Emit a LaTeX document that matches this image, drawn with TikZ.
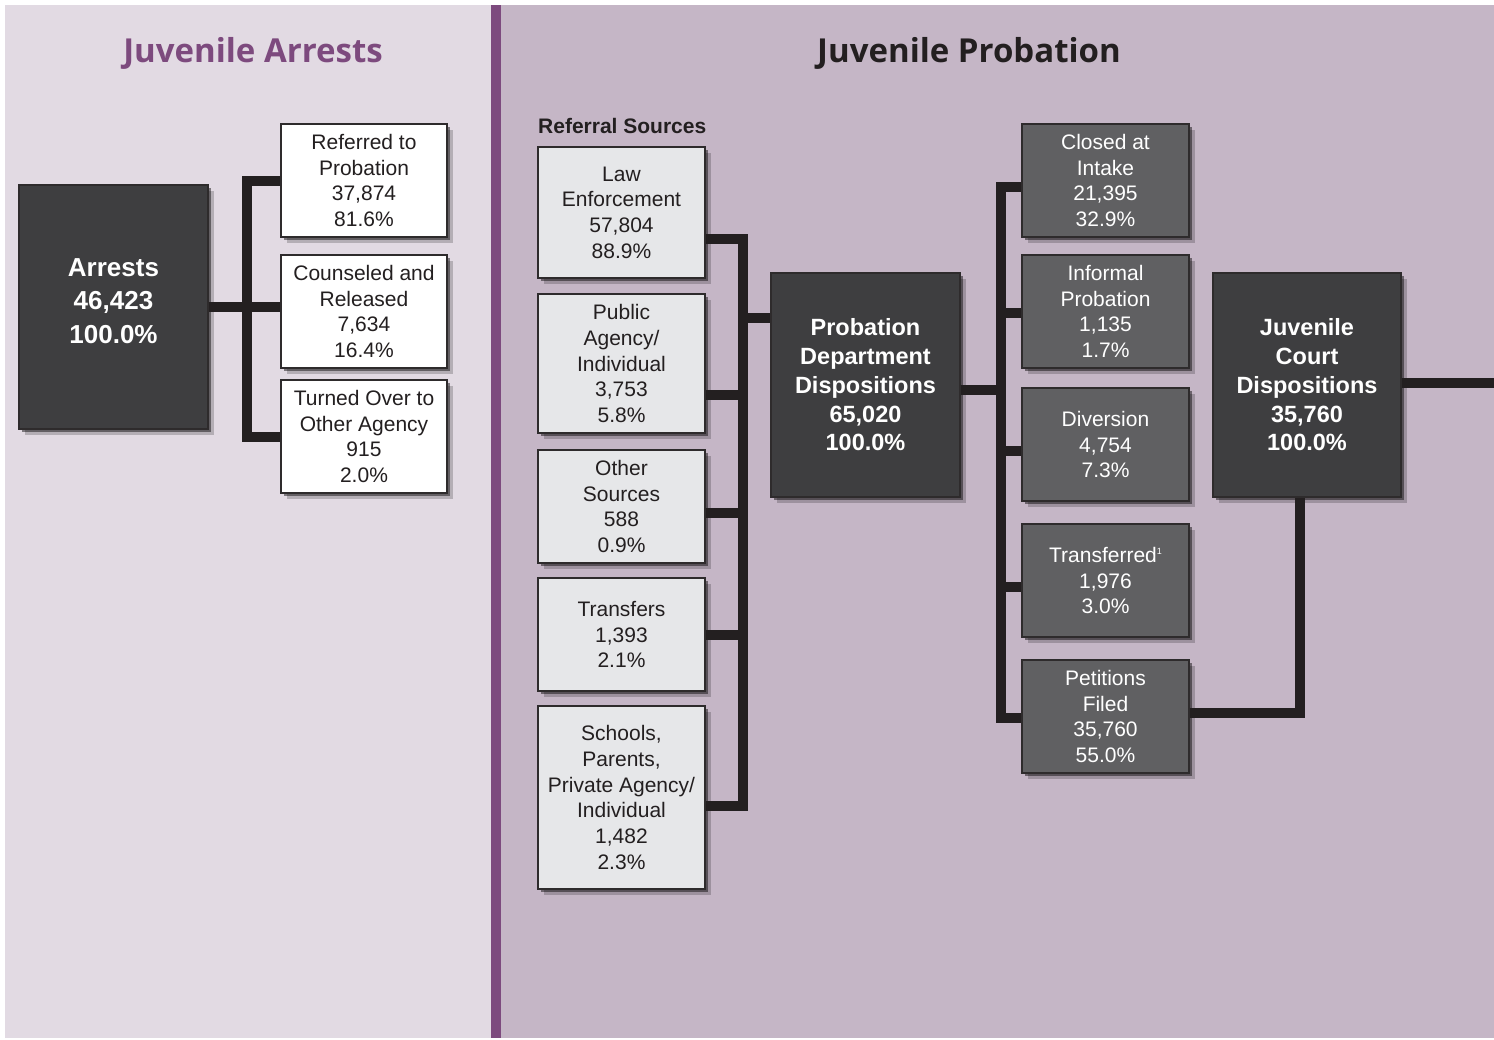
\documentclass[tikz,border=0pt]{standalone}
\usepackage{fontspec}
\setmainfont{Liberation Sans}
\newfontfamily\headfont{Open Sans}
\usepackage{tikz}
\usetikzlibrary{calc,shadows}
\definecolor{arrestbg}{HTML}{E2DAE3}
\definecolor{probbg}{HTML}{C5B6C6}
\definecolor{plum}{HTML}{7D4A7E}
\definecolor{ink}{HTML}{231F20}
\definecolor{darkbox}{HTML}{3E3E40}
\definecolor{midbox}{HTML}{606062}
\definecolor{lightbox}{HTML}{E6E7E9}
\definecolor{edge}{HTML}{2E2B2C}
\tikzset{
  box/.style={draw=edge, line width=1.2pt, align=center, inner sep=0pt,
    minimum width=167pt, minimum height=113pt, text=ink,
    font=\fontsize{21}{25.7}\selectfont,
    drop shadow={shadow xshift=3pt, shadow yshift=-3pt, opacity=.45, fill=black},
    drop shadow={shadow xshift=6pt, shadow yshift=-6pt, opacity=.2, fill=black}},
  whitebox/.style={box, fill=white},
  srcbox/.style={box, fill=lightbox},
  dispbox/.style={box, fill=midbox, text=white},
  mainbox/.style={box, fill=darkbox, text=white, minimum width=189pt,
    minimum height=224pt, font=\bfseries\fontsize{23.5}{28.75}\selectfont},
  bus/.style={draw=ink, line width=10pt, line join=miter},
  title/.style={font=\headfont\bfseries\fontsize{33}{33}\selectfont}
}
\begin{document}
\begin{tikzpicture}[x=1pt, y=-1pt]
  \useasboundingbox (0,0) rectangle (1494,1039);
  \fill[arrestbg] (5,5) rectangle (491,1038);
  \fill[plum] (491,5) rectangle (501,1038);
  \fill[probbg] (501,5) rectangle (1494,1038);

  \node[title, text=plum] (tarrests) at (253,53) {Juvenile Arrests};
  \node[title, text=ink] (tprobation) at (969,53) {Juvenile Probation};
  \node[font=\bfseries\fontsize{21}{21}\selectfont, text=ink, anchor=west,
    inner sep=0pt] (refsrc) at (538,126) {Referral Sources};

  % arrests side
  \node[mainbox, minimum height=244pt, font=\bfseries\fontsize{26}{33.5}\selectfont]
    (arrests) at (113.5,307) {Arrests\\46,423\\100.0\%\rule[-12pt]{0pt}{0pt}};
  \node[whitebox, minimum width=166pt] (referred) at (364,180.5) {Referred to\\Probation\\37,874\\81.6\%};
  \node[whitebox, minimum width=166pt] (counseled) at (364,311.5) {Counseled and\\Released\\7,634\\16.4\%};
  \node[whitebox, minimum width=166pt] (turned) at (364,436.5) {Turned Over to\\Other Agency\\915\\2.0\%};

  % referral sources
  \node[srcbox, minimum height=131pt] (law) at (621.5,212.5) {Law\\Enforcement\\57,804\\88.9\%};
  \node[srcbox, minimum height=139pt] (public) at (621.5,363.5) {Public\\Agency/\\Individual\\3,753\\5.8\%};
  \node[srcbox] (other) at (621.5,506.5) {Other\\Sources\\588\\0.9\%};
  \node[srcbox] (transfers) at (621.5,634.5) {Transfers\\1,393\\2.1\%};
  \node[srcbox, minimum height=183pt] (schools) at (621.5,797.5) {Schools,\\Parents,\\Private Agency/\\Individual\\1,482\\2.3\%};

  \node[mainbox] (probation) at (865.5,385) {Probation\\Department\\Dispositions\\65,020\\100.0\%};

  % dispositions
  \node[dispbox] (closed) at (1105.5,180.5) {Closed at\\Intake\\21,395\\32.9\%};
  \node[dispbox] (informal) at (1105.5,311.5) {Informal\\Probation\\1,135\\1.7\%};
  \node[dispbox] (diversion) at (1105.5,444.5) {Diversion\\4,754\\7.3\%};
  \node[dispbox] (transferred) at (1105.5,580.5) {Transferred\raisebox{8pt}{\fontsize{9}{9}\selectfont 1}\\1,976\\3.0\%};
  \node[dispbox] (petitions) at (1105.5,716.5) {Petitions\\Filed\\35,760\\55.0\%};

  \node[mainbox, minimum width=188pt] (court) at (1307,385) {Juvenile\\Court\\Dispositions\\35,760\\100.0\%};

  % connectors
  \coordinate (abus) at (247,307);
  \draw[bus] (arrests.east) -- (counseled.west |- arrests.east);
  \draw[bus] (referred.west) -| (abus) |- (turned.west);

  \coordinate (rbus) at (743,318);
  \foreach \src/\dy in {law/26.5, public/31.5, other/6.5, transfers/0.5, schools/8.5}
    \coordinate (\src-out) at ($(\src.east)+(0,\dy)$);
  \draw[bus] (rbus) -- (rbus -| probation.west);
  \draw[bus] (law-out) -| (rbus) |- (schools-out);
  \foreach \src in {public,other,transfers}
    \draw[bus] (\src-out) -- (\src-out -| rbus);

  \coordinate (dbus) at ($(probation.east)+(40,4.5)$);
  \foreach \dst/\dy in {closed/6.5, informal/1.5, diversion/6.5, transferred/6.5, petitions/1.5}
    \coordinate (\dst-in) at ($(\dst.west)+(0,\dy)$);
  \draw[bus] (probation.east |- dbus) -- (dbus);
  \draw[bus] (closed-in) -| (dbus) |- (petitions-in);
  \foreach \dst in {informal,diversion,transferred}
    \draw[bus] (\dst-in) -- (\dst-in -| dbus);

  \coordinate (pet-out) at ($(petitions.east)+(0,-4)$);
  \coordinate (cbus) at ($(court.south)+(-7,0)$);
  \draw[bus] (pet-out) -| (cbus);
  \coordinate (exit) at (1494,383);
  \draw[bus] (court.east |- exit) -- (exit);
\end{tikzpicture}
\end{document}
